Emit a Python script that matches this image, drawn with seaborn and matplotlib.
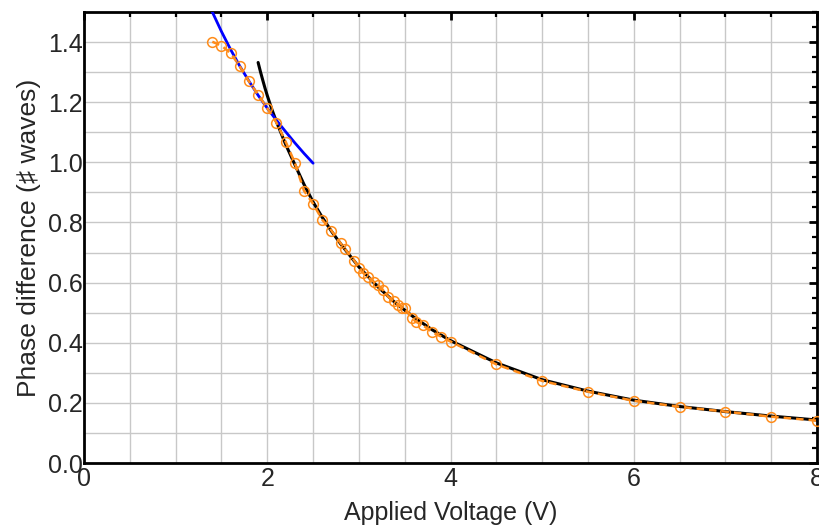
import matplotlib
matplotlib.use("Agg")
import matplotlib.pyplot as plt
from matplotlib.ticker import MultipleLocator
import seaborn as sns
import pandas as pd

# measured phase difference (orange circles)
volt_data = [1.4, 1.5, 1.6, 1.7, 1.8, 1.9, 2.0, 2.1, 2.2, 2.3, 2.4, 2.5, 2.6, 2.7,
             2.8, 2.85, 2.95, 3.0, 3.05, 3.1, 3.16, 3.21, 3.26, 3.32, 3.38, 3.43,
             3.47, 3.5, 3.58, 3.62, 3.7, 3.8, 3.9, 4.0, 4.5, 5.0, 5.5, 6.0, 6.5,
             7.0, 7.5, 8.0]
phase_data = [1.401, 1.388, 1.363, 1.319, 1.269, 1.225, 1.180, 1.132, 1.069, 0.999,
              0.906, 0.862, 0.809, 0.773, 0.731, 0.711, 0.673, 0.649, 0.631, 0.619,
              0.603, 0.591, 0.576, 0.553, 0.539, 0.526, 0.517, 0.516, 0.482, 0.470,
              0.458, 0.435, 0.420, 0.404, 0.328, 0.273, 0.237, 0.207, 0.187, 0.171,
              0.154, 0.141]

# high-voltage fit (black)
volt_fit_hi = [1.9, 1.925, 1.95, 1.975, 2.0, 2.05, 2.1, 2.2, 2.3, 2.4, 2.5, 2.6,
               2.7, 2.8, 3.0, 3.2, 3.4, 3.6, 3.8, 4.0, 4.5, 5.0, 5.5, 6.0, 6.5,
               7.0, 7.5, 8.0]
phase_fit_hi = [1.332, 1.302, 1.274, 1.247, 1.222, 1.176, 1.135, 1.060, 0.993,
                0.927, 0.868, 0.817, 0.771, 0.729, 0.652, 0.588, 0.532, 0.485,
                0.443, 0.407, 0.333, 0.277, 0.239, 0.209, 0.188, 0.171, 0.156,
                0.143]

# low-voltage fit (blue)
volt_fit_lo = [1.38, 1.4, 1.5, 1.6, 1.7, 1.8, 1.9, 2.0, 2.1, 2.2, 2.3, 2.4, 2.5]
phase_fit_lo = [1.513, 1.500, 1.435, 1.375, 1.320, 1.270, 1.223, 1.180, 1.140,
                1.102, 1.065, 1.030, 0.997]

sns.set_style("white")
plt.rcParams["font.family"] = ["Liberation Sans", "DejaVu Sans"]

fig = plt.figure(figsize=(8.19, 5.30), dpi=100)
ax = fig.add_axes([0.1026, 0.1264, 0.895, 0.851])

ax.set_xlim(0, 8)
ax.set_ylim(0, 1.5)

# grid every 0.5 V and 0.1 waves
ax.xaxis.set_major_locator(MultipleLocator(2))
ax.xaxis.set_minor_locator(MultipleLocator(0.5))
ax.yaxis.set_major_locator(MultipleLocator(0.2))
ax.yaxis.set_minor_locator(MultipleLocator(0.05))
for v in [i * 0.5 for i in range(1, 16)]:
    ax.axvline(v, color="#c8c8c8", lw=1.0, zorder=0)
for v in [i * 0.1 for i in range(1, 15)]:
    ax.axhline(v, color="#c8c8c8", lw=1.0, zorder=0)

hi = pd.DataFrame({"V": volt_fit_hi, "phase": phase_fit_hi})
lo = pd.DataFrame({"V": volt_fit_lo, "phase": phase_fit_lo})
meas = pd.DataFrame({"V": volt_data, "phase": phase_data})

sns.lineplot(data=hi, x="V", y="phase", ax=ax, color="black", lw=2.2, sort=False, zorder=3)
sns.lineplot(data=lo, x="V", y="phase", ax=ax, color="#0000ff", lw=2.0, sort=False, zorder=3)
sns.lineplot(data=meas, x="V", y="phase", ax=ax, color="#ff8c1a", lw=1.8,
             linestyle=(0, (3, 2)), sort=False, zorder=4)
ax.plot(volt_data, phase_data, linestyle="none", marker="o", ms=7,
        mfc="none", mec="#ff8c1a", mew=1.1, zorder=5, clip_on=False)

for s in ax.spines.values():
    s.set_linewidth(2.0)
    s.set_color("black")

ax.tick_params(which="both", direction="in", top=True, right=True, color="black")
ax.tick_params(which="major", length=6, width=2.0, labelsize=18, pad=1)
ax.tick_params(axis="x", which="major", pad=3)
ax.tick_params(which="minor", length=3.5, width=1.6)
ax.set_xticks([0, 2, 4, 6, 8])
ax.set_xticklabels(["0", "2", "4", "6", "8"])
ax.set_yticks([0, 0.2, 0.4, 0.6, 0.8, 1.0, 1.2, 1.4])
ax.set_yticklabels(["0.0", "0.2", "0.4", "0.6", "0.8", "1.0", "1.2", "1.4"])

ax.set_xlabel("Applied Voltage (V)", fontsize=18, labelpad=7)
ax.set_ylabel("Phase difference (\u266F waves)", fontsize=19, labelpad=5)

fig.savefig("out.png", dpi=100)
